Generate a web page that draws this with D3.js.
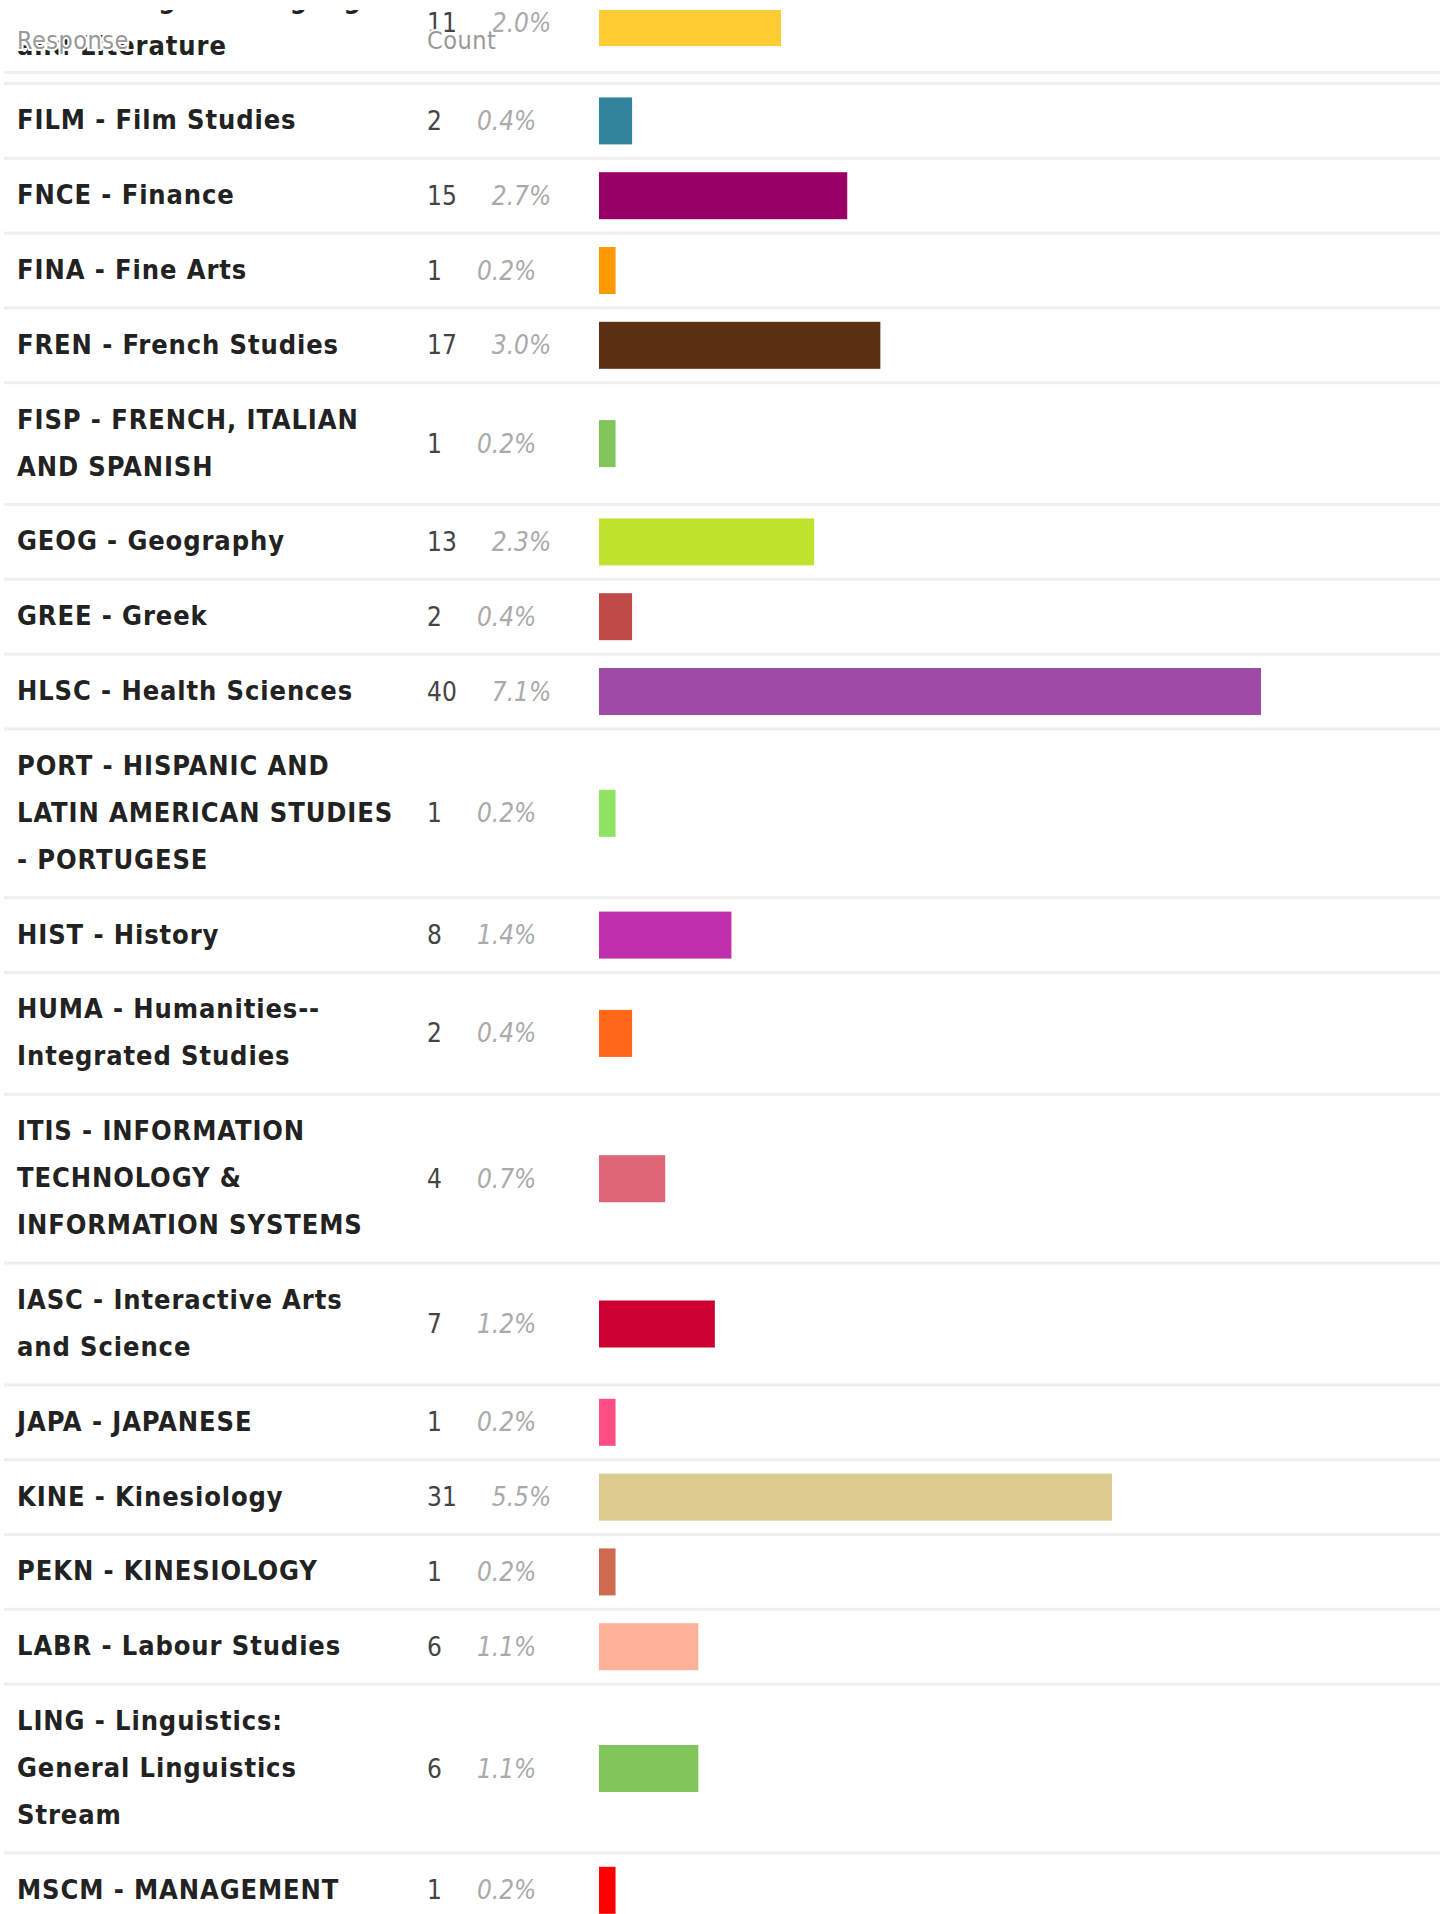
<!DOCTYPE html>
<html>
<head>
<meta charset="utf-8">
<script src="https://cdn.jsdelivr.net/npm/d3@7"></script>
<style>
  html, body { margin: 0; padding: 0; background: #ffffff; }
  svg { display: block; }
  .cond { font-family: 'DejaVu Sans Condensed', 'DejaVu Sans', sans-serif; font-stretch: condensed; }
</style>
</head>
<body>
<div id="chart"></div>
<script>
// ---- data ----
const categories = [
  "ENGL - English Language\nand Literature",
  "FILM - Film Studies",
  "FNCE - Finance",
  "FINA - Fine Arts",
  "FREN - French Studies",
  "FISP - FRENCH, ITALIAN\nAND SPANISH",
  "GEOG - Geography",
  "GREE - Greek",
  "HLSC - Health Sciences",
  "PORT - HISPANIC AND\nLATIN AMERICAN STUDIES\n- PORTUGESE",
  "HIST - History",
  "HUMA - Humanities--\nIntegrated Studies",
  "ITIS - INFORMATION\nTECHNOLOGY &\nINFORMATION SYSTEMS",
  "IASC - Interactive Arts\nand Science",
  "JAPA - JAPANESE",
  "KINE - Kinesiology",
  "PEKN - KINESIOLOGY",
  "LABR - Labour Studies",
  "LING - Linguistics:\nGeneral Linguistics\nStream",
  "MSCM - MANAGEMENT"
];
const counts = [11, 2, 15, 1, 17, 1, 13, 2, 40, 1, 8, 2, 4, 7, 1, 31, 1, 6, 6, 1];
const percents = ["2.0%", "0.4%", "2.7%", "0.2%", "3.0%", "0.2%", "2.3%", "0.4%", "7.1%", "0.2%",
                  "1.4%", "0.4%", "0.7%", "1.2%", "0.2%", "5.5%", "0.2%", "1.1%", "1.1%", "0.2%"];
const barColors = ["#ffcc33", "#31849b", "#990066", "#ff9900", "#5a2f12", "#80c65a", "#bfe32d", "#c04a47",
                   "#9e4ba6", "#8ee462", "#bf2fae", "#ff671b", "#de6676", "#cc0033", "#ff4e83", "#ddcb90",
                   "#cf6a50", "#ffb199", "#80c65a", "#ff0000"];
const headers = ["Response", "Count"];

// ---- layout ----
const W = 1443, H = 1914;
const pad = 12.4, lineH = 47, border = 3;
const startY = -36.8;
const labelX = 17, countX = 427, barX = 599, sepX0 = 4, sepX1 = 1440;
const barH = 47;

const rows = categories.map((c, i) => ({
  lines: c.split("\n"), count: counts[i], pct: percents[i], color: barColors[i]
}));
let yAcc = startY;
rows.forEach(r => {
  r.top = yAcc;
  r.h = 2 * pad + lineH * r.lines.length;
  r.center = r.top + r.h / 2;
  yAcc = r.top + r.h + border;
});

const x = d3.scaleLinear().domain([0, 40]).range([0, 662]);

const svg = d3.select("#chart").append("svg").attr("width", W).attr("height", H);

const g = svg.selectAll("g.row").data(rows).join("g").attr("class", "row");

// separators
g.append("rect")
  .attr("x", sepX0).attr("width", sepX1 - sepX0)
  .attr("y", d => d.top + d.h).attr("height", border)
  .attr("fill", "#efefef");

// labels
g.each(function(d) {
  const t = d3.select(this).append("text")
    .attr("class", "cond")
    .attr("font-size", 27).attr("font-weight", "bold")
    .attr("letter-spacing", 0.9)
    .attr("fill", "#222222");
  d.lines.forEach((ln, k) => {
    t.append("tspan").attr("x", labelX)
      .attr("y", d.top + pad + lineH * k + lineH / 2 + 8.5)
      .text(ln);
  });
});

// counts
g.append("text")
  .attr("class", "cond count")
  .attr("x", countX).attr("y", d => d.center + 9)
  .attr("font-size", 26).attr("fill", "#444444")
  .text(d => d.count);

// percents (inline after count)
g.each(function(d) {
  const sel = d3.select(this);
  const cw = sel.select("text.count").node().getComputedTextLength();
  sel.append("text")
    .attr("class", "cond")
    .attr("x", countX + cw + 35).attr("y", d.center + 9)
    .attr("font-size", 26).attr("font-style", "italic").attr("fill", "#aaaaaa")
    .text(d.pct);
});

// bars
g.append("rect")
  .attr("x", barX).attr("width", d => x(d.count))
  .attr("y", d => d.center - barH / 2).attr("height", barH)
  .attr("fill", d => d.color);

// sticky header overlay
const hd = svg.append("g");
hd.append("rect").attr("x", 0).attr("y", 0).attr("width", W).attr("height", 10).attr("fill", "#ffffff");
hd.append("rect").attr("x", sepX0).attr("width", sepX1 - sepX0).attr("y", 71).attr("height", border).attr("fill", "#efefef");
hd.selectAll("text").data(headers).join("text")
  .attr("class", "cond")
  .attr("x", (d, i) => i === 0 ? labelX : countX)
  .attr("y", 48.5)
  .attr("font-size", 25).attr("letter-spacing", 0.5)
  .attr("fill", "#999999")
  .attr("stroke", "#ffffff").attr("stroke-width", 4).attr("paint-order", "stroke")
  .text(d => d);
</script>
</body>
</html>
